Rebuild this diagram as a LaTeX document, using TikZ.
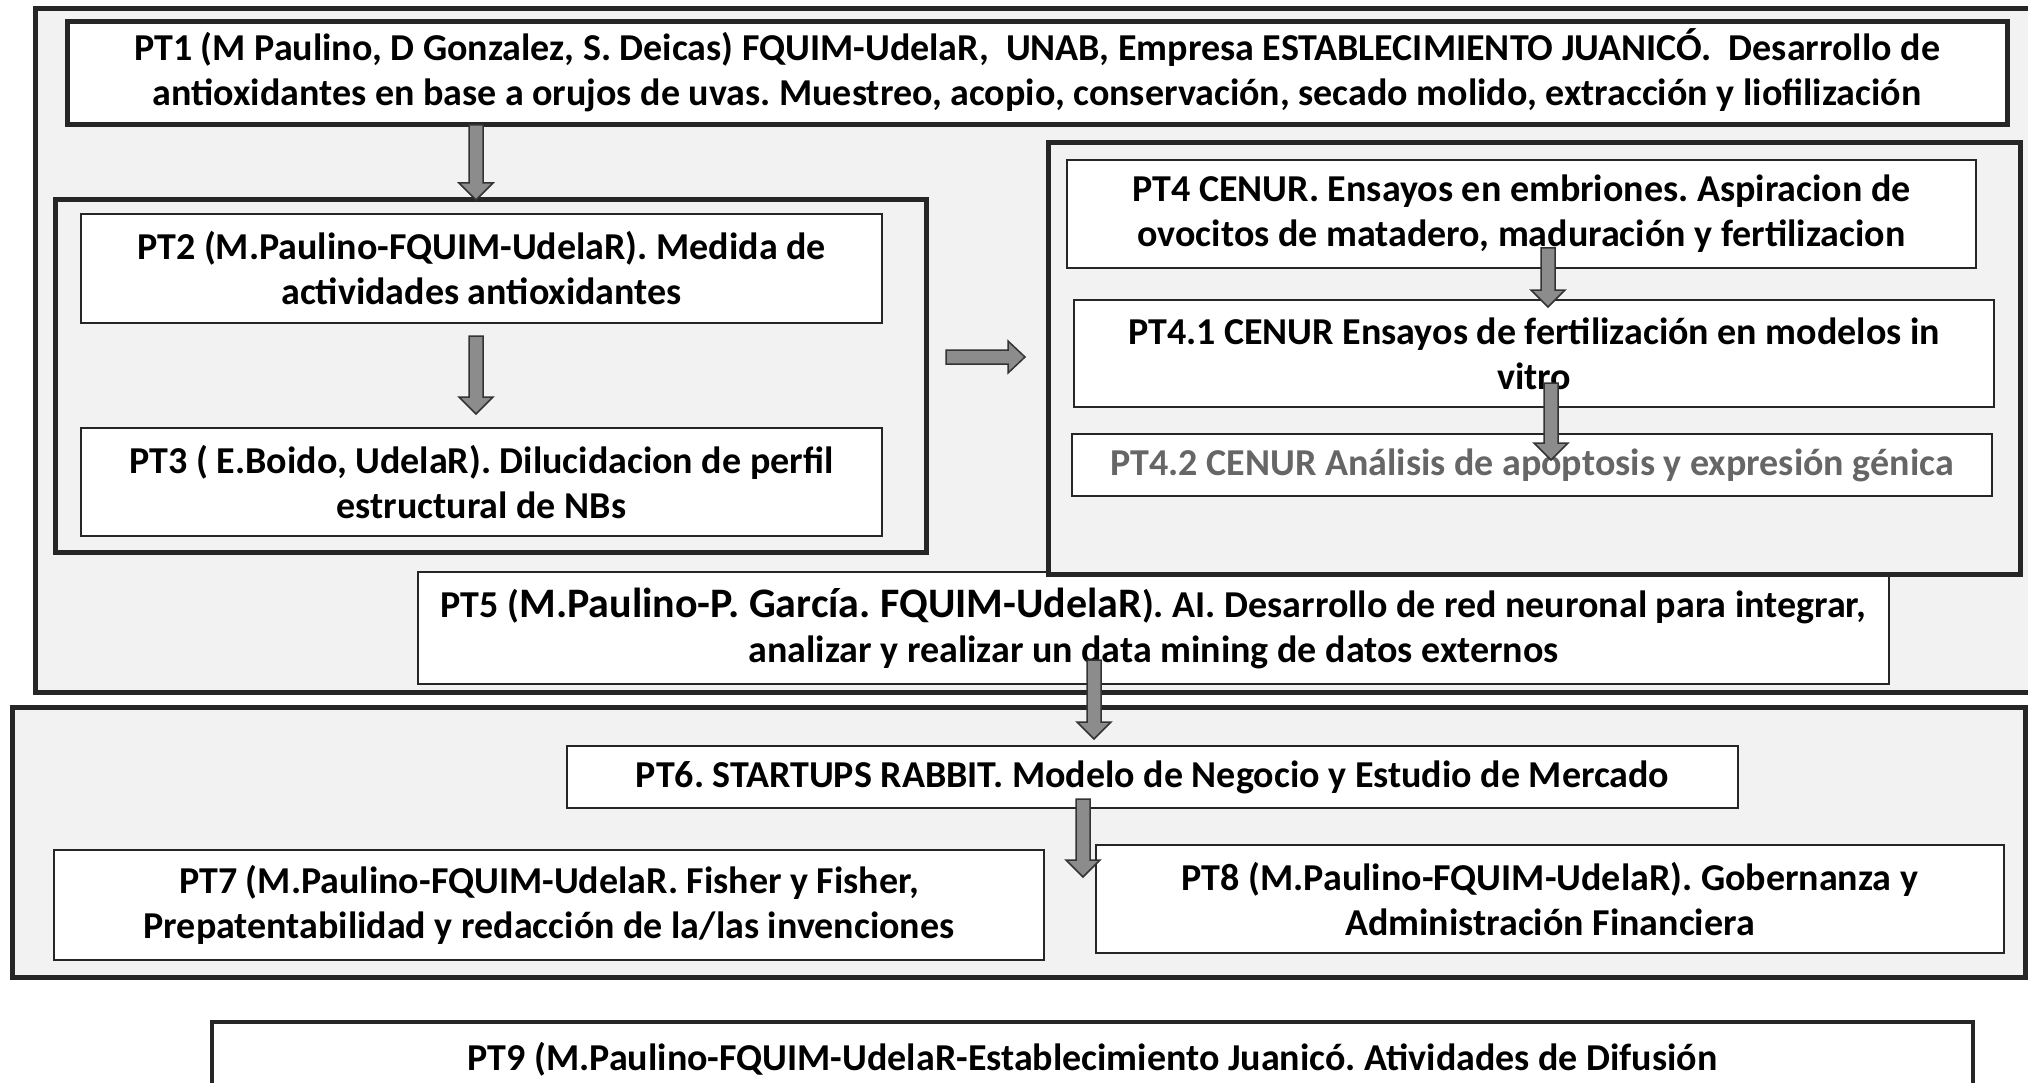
\documentclass[tikz,border=0pt]{standalone}
\usepackage{fontspec}
\setmainfont{Carlito}
\usetikzlibrary{calc}
\frenchspacing
\tikzset{
  grp/.style={draw=black!85, line width=5pt, fill=black!5, inner sep=0pt},
  tbox/.style={draw=black!85, line width=1.8pt, fill=white, align=center, inner sep=0pt,
    font=\fontsize{38pt}{45pt}\selectfont\bfseries},
  blkarrow/.style={fill=black!45, draw=black!80, line width=1.5pt, line join=miter},
}
\newcommand\dnarrow[2]{%
  \draw[blkarrow] let \p1=(#1), \p2=(#2) in
   (\x1-7pt,\y1) -- (\x1+7pt,\y1) -- (\x1+7pt,\y2+17pt) -- (\x1+17pt,\y2+17pt) -- (\x1,\y2)
   -- (\x1-17pt,\y2+17pt) -- (\x1-7pt,\y2+17pt) -- cycle;}
\newcommand\rtarrow[2]{%
  \draw[blkarrow] let \p1=(#1), \p2=(#2) in
   (\x1,\y1+7pt) -- (\x2-17pt,\y1+7pt) -- (\x2-17pt,\y1+16pt) -- (\x2,\y1)
   -- (\x2-17pt,\y1-16pt) -- (\x2-17pt,\y1-7pt) -- (\x1,\y1-7pt) -- cycle;}
\begin{document}
\begin{tikzpicture}[x=1pt,y=-1pt]
\useasboundingbox (0,0) rectangle (2028,1083);
\clip (0,0) rectangle (2028,1083);
\fill[white] (0,0) rectangle (2028,1083);

% containers
\node[grp, minimum width=2005pt, minimum height=683pt] (outer) at (1037.5,350.5) {};
\node[grp, minimum width=2013pt, minimum height=270pt] (grpB) at (1018.5,842) {};
\node[grp, minimum width=871pt, minimum height=352pt] (grpL) at (490.5,376) {};
\node[tbox, minimum width=1471pt, minimum height=112pt] (pt5) at (1153.5,628)
  {PT5 ({\fontsize{42pt}{45pt}\selectfont M.Paulino-P. García. FQUIM-UdelaR}). AI. Desarrollo de red neuronal para integrar,\\analizar y realizar un data mining de datos externos};
\node[grp, minimum width=972pt, minimum height=431pt] (grpR) at (1534,358.5) {};

% boxes
\node[tbox, line width=5pt, minimum width=1940pt, minimum height=103pt] (pt1) at (1037,73.5)
  {\raisebox{-3pt}{\begin{tabular}{@{}c@{}}PT1 (M Paulino, D Gonzalez, S. Deicas) FQUIM-UdelaR,\ \ UNAB, Empresa ESTABLECIMIENTO JUANICÓ.\ \ Desarrollo de\\antioxidantes en base a orujos de uvas. Muestreo, acopio, conservación, secado molido, extracción y liofilización\end{tabular}}};
\node[tbox, minimum width=801pt, minimum height=109pt] (pt2) at (481.5,268.5)
  {PT2 (M.Paulino-FQUIM-UdelaR). Medida de\\actividades antioxidantes};
\node[tbox, minimum width=801pt, minimum height=108pt] (pt3) at (481.5,482)
  {PT3 ( E.Boido, UdelaR). Dilucidacion de perfil\\estructural de NBs};
\node[tbox, minimum width=909pt, minimum height=108pt] (pt4) at (1521.5,214)
  {PT4 CENUR. Ensayos en embriones. Aspiracion de\\ovocitos de matadero, maduración y fertilizacion};
\node[tbox, minimum width=920pt, minimum height=107pt] (pt41) at (1534,353.5)
  {PT4.1 CENUR Ensayos de fertilización en modelos in\\vitro};
\node[tbox, text=black!60, minimum width=920pt, minimum height=62pt] (pt42) at (1532,465)
  {PT4.2 CENUR Análisis de apoptosis y expresión génica};
\node[tbox, minimum width=1171pt, minimum height=62pt] (pt6) at (1152.5,777)
  {PT6. STARTUPS RABBIT. Modelo de Negocio y Estudio de Mercado};
\node[tbox, minimum width=990pt, minimum height=110pt] (pt7) at (549,905)
  {PT7 (M.Paulino-FQUIM-UdelaR. Fisher y Fisher,\\Prepatentabilidad y redacción de la/las invenciones};
\node[tbox, minimum width=908pt, minimum height=108pt] (pt8) at (1550,899)
  {PT8 (M.Paulino-FQUIM-UdelaR). Gobernanza y\\Administración Financiera};
\node[tbox, line width=3.5pt, minimum width=1761pt, minimum height=76pt] (pt9) at (1092.5,1060)
  {\raisebox{8pt}{PT9 (M.Paulino-FQUIM-UdelaR-Establecimiento Juanicó. Atividades de Difusión}};

% arrow end points
\coordinate (a1s) at (476,125);  \coordinate (a1e) at (476,200);
\coordinate (a2s) at (476,336);  \coordinate (a2e) at (476,414);
\coordinate (ahs) at (946,357);  \coordinate (ahe) at (1025,357);
\coordinate (a4s) at (1548,248); \coordinate (a4e) at (1548,307);
\coordinate (a41s) at (1551,383); \coordinate (a41e) at (1551,460);
\coordinate (a5s) at (1094,660); \coordinate (a5e) at (1094,739);
\coordinate (a6s) at (1083,799); \coordinate (a6e) at (1083,877);

\dnarrow{a1s}{a1e}
\dnarrow{a2s}{a2e}
\rtarrow{ahs}{ahe}
\dnarrow{a4s}{a4e}
\dnarrow{a41s}{a41e}
\dnarrow{a5s}{a5e}
\dnarrow{a6s}{a6e}
\end{tikzpicture}
\end{document}
